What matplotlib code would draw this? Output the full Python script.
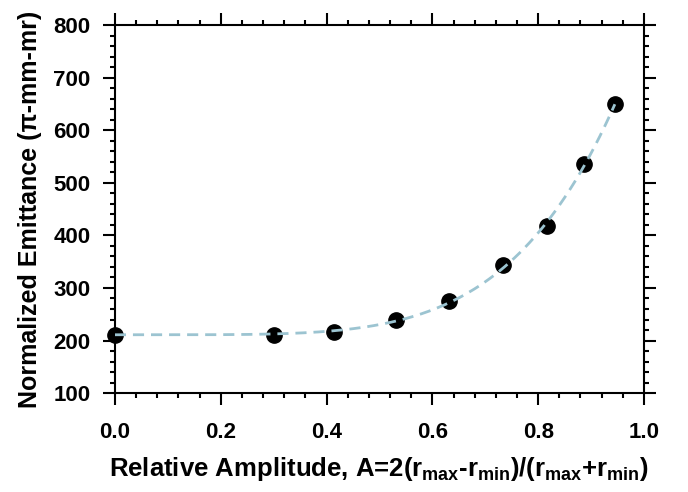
import numpy as np
import matplotlib
matplotlib.use("Agg")
import matplotlib.pyplot as plt
from matplotlib.ticker import MultipleLocator

# 그림에서 읽은 데이터
amplitude = [0.0, 0.301, 0.415, 0.532, 0.631, 0.734, 0.817, 0.887, 0.945]
emittance = [210, 211, 217, 239, 275, 343, 417, 535, 650]

plt.rcParams['font.family'] = ['Liberation Sans', 'DejaVu Sans']
plt.rcParams['font.weight'] = 'bold'
plt.rcParams['mathtext.fontset'] = 'custom'
plt.rcParams['mathtext.rm'] = 'Liberation Sans:bold'
plt.rcParams['mathtext.it'] = 'Liberation Sans:bold'
plt.rcParams['mathtext.bf'] = 'Liberation Sans:bold'

x = np.array(amplitude)
y = np.array(emittance, dtype=float)

# 곡선: y = y0 + b*x^n 형태로 데이터에 맞춤
best = None
for n in np.arange(2.0, 8.0, 0.05):
    A = np.column_stack([np.ones_like(x), x ** n])
    coef, res, _, _ = np.linalg.lstsq(A, y, rcond=None)
    err = np.sum((A @ coef - y) ** 2)
    if best is None or err < best[0]:
        best = (err, n, coef)
_, n_fit, c_fit = best
xf = np.linspace(0, x.max(), 200)
yf = c_fit[0] + c_fit[1] * xf ** n_fit

fig = plt.figure(figsize=(6.88, 4.92), dpi=100)
ax = fig.add_axes([0.167, 0.201, 0.769, 0.748])

ax.plot(xf, yf, linestyle=(0, (4, 2.5)), color='#9cc4d1', lw=2.0, zorder=3)
ax.plot(x, y, 'o', color='black', ms=11, zorder=2, clip_on=False)

ax.set_xlim(0, 1.0)
ax.set_ylim(100, 800)
ax.xaxis.set_major_locator(MultipleLocator(0.2))
ax.xaxis.set_minor_locator(MultipleLocator(0.04))
ax.yaxis.set_major_locator(MultipleLocator(100))
ax.yaxis.set_minor_locator(MultipleLocator(20))
ax.xaxis.set_major_formatter(matplotlib.ticker.FormatStrFormatter('%.1f'))

for s in ax.spines.values():
    s.set_linewidth(1.5)
ax.tick_params(which='both', direction='out', top=True, right=True, width=1.5,
               labelsize=16)
ax.tick_params(which='major', length=8.5, pad=9)
ax.tick_params(axis='x', which='major', pad=12)
ax.tick_params(which='minor', length=3.5)

ax.set_xlabel('Relative Amplitude, A=2(r$_{max}$-r$_{min}$)/(r$_{max}$+r$_{min}$)',
              fontsize=18.5, fontweight='bold', labelpad=9)
ax.set_ylabel('Normalized Emittance (\u03c0-mm-mr)', fontsize=18,
              fontweight='bold', labelpad=8)

fig.savefig('out.png', dpi=100)
